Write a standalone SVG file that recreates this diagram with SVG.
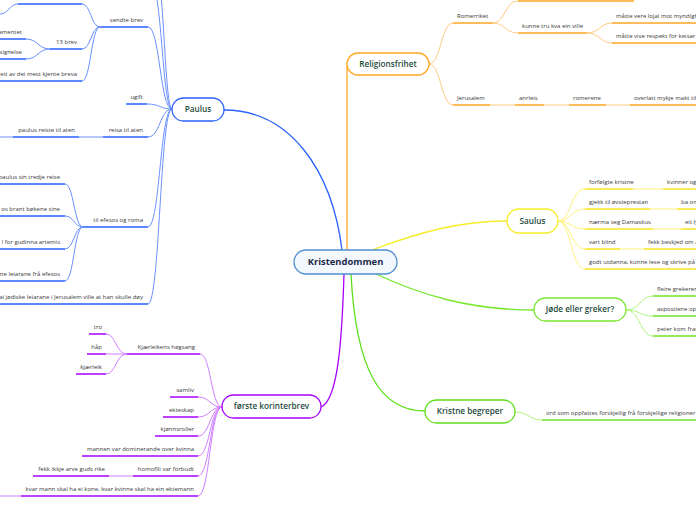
<svg xmlns="http://www.w3.org/2000/svg" width="696" height="520" viewBox="0 0 696 520">
<style>
.t{font-family:"Open Sans","Noto Sans",sans-serif;font-size:6px;fill:#3a3a3a}
.e{text-anchor:end}
.n{font-family:"Open Sans","Noto Sans",sans-serif;font-size:8.2px;font-weight:600;fill:#1e4a3c;text-anchor:middle}
.root{font-family:"Open Sans","Noto Sans",sans-serif;font-size:9.4px;font-weight:700;fill:#1b2a4a;text-anchor:middle}
path,line{fill:none}
.cB{stroke:#6a90ff;stroke-width:1}
.uB{stroke:#2962ff;stroke-width:1.6}
.cO{stroke:#ffcb80;stroke-width:1}
.uO{stroke:#ffa726;stroke-width:1.6}
.cY{stroke:#fff27a;stroke-width:1}
.uY{stroke:#f7e61c;stroke-width:1.6}
.cG{stroke:#aef57a;stroke-width:1}
.uG{stroke:#6fe524;stroke-width:1.6}
.cP{stroke:#cf80ff;stroke-width:1}
.uP{stroke:#a800ff;stroke-width:1.6}
.box{fill:#fff;stroke-width:1.3}
</style>
<rect width="696" height="520" fill="#fff"/>
<g id="connectors">
<!-- main -->
<path d="M342 250 C332 170 290 110 224 110" stroke="#2962ff" stroke-width="1.3"/>
<path d="M347 250 V66" stroke="#ffa726" stroke-width="1.3"/>
<path d="M372 250 C420 232 460 221 507 221" stroke="#f7ec2a" stroke-width="1.3"/>
<path d="M374 273 C420 295 470 310 534 310" stroke="#76e82a" stroke-width="1.3"/>
<path d="M351 274 C356 370 380 411 425 411" stroke="#5fe01a" stroke-width="1.3"/>
<path d="M344 274 C342 340 338 400 321 407" stroke="#a800ff" stroke-width="1.3"/>
<!-- Religionsfrihet -->
<path class="cO" d="M429 64 C441 64 441 23 453 23 M429 64 C441 64 441 105 453 105 M493 23 C505 23 505 1 518 1 M493 23 C505 23 505 33 518 33 M587 33 C600 33 600 23 612 23 M587 33 C600 33 600 43 612 43 M490 105 H515 M544 105 H569 M606 105 H630"/>
<!-- Saulus -->
<path class="cY" d="M558 221 C571 221 571 189 585 189 M558 221 C571 221 571 209 585 209 M558 221 C571 221 571 229 585 229 M558 221 C571 221 571 249 585 249 M558 221 C571 221 571 269 585 269 M633 189 H663 M650 209 H677 M653 229 H681 M620 249 H644"/>
<!-- Jøde -->
<path class="cG" d="M626 310 C640 310 640 296 653 296 M626 310 C640 310 640 316 653 316 M626 310 C640 310 640 336 653 336 M515 412 C529 412 529 420 542 420"/>
<!-- første -->
<path class="cP" d="M222 407 C211 407 211 354 200 354 M222 407 C210 407 210 397 198 397 M222 407 C210 407 210 417 198 417 M222 407 C210 407 210 436 198 436 M222 407 C210 407 210 456 198 456 M222 407 C210 407 210 476 198 476 M222 407 C210 407 210 496 198 496 M127 354 C116 354 116 334 106 334 M127 354 H106 M127 354 C116 354 116 374 106 374 M109 476 H133 M0 496 H21"/>
<!-- Paulus -->
<path class="cB" d="M172 109 C160 109 160 27 148 27 M172 109 C160 109 160 104 147 104 M172 109 C160 109 160 137 148 137 M172 109 C160 109 160 227 148 227 M172 109 C160 109 160 304 148 304 M172 109 C162 109 162 -20 150 -20 M172 109 C164 109 164 -50 152 -50 M100 27 C91 27 91 4 82 4 M100 27 C91 27 91 49 82 49 M100 27 C91 27 91 81 82 81 M18 4 C9 4 9 14 0 14 M50 49 C38 49 38 39 26 39 M50 49 C38 49 38 59 26 59 M83 227 C74 227 74 184 65 184 M83 227 C74 227 74 216 65 216 M83 227 C74 227 74 249 65 249 M83 227 C74 227 74 281 65 281 M79 137 H103 M0 137 H13"/>
</g>
<g id="root">
<rect x="294" y="250" width="103" height="24" rx="12" fill="#f3f8fd" stroke="#4d8fd3" stroke-width="1.3"/>
<text class="root" x="345.5" y="265.3">Kristendommen</text>
</g>
<g id="religionsfrihet">
<rect class="box" x="347" y="53" width="82" height="22" rx="11" stroke="#ffa726"/>
<text class="n" x="388" y="66.9">Religionsfrihet</text>
<path class="uO" d="M453 23 H493 M518 1 H634 M518 33 H587 M612 23 H696 M612 43 H696 M453 105 H490 M515 105 H544 M569 105 H606 M630 105 H696"/>
<text class="t" x="457" y="18">Romerriket</text>
<text class="t" x="522" y="28">kunne tru kva ein ville</text>
<text class="t" x="616" y="18">måtte vere lojal mot myndigh</text>
<text class="t" x="616" y="38">måtte vise respekt for keisar</text>
<text class="t" x="457" y="100">Jerusalem</text>
<text class="t" x="519" y="100">anrleis</text>
<text class="t" x="573" y="100">romerene</text>
<text class="t" x="634" y="100">overlatt mykje makt til</text>
</g>
<g id="saulus">
<rect class="box" x="507" y="209" width="51" height="24" rx="12" stroke="#f7ec2a"/>
<text class="n" x="532.5" y="223.9">Saulus</text>
<path class="uY" d="M585 189 H633 M663 189 H696 M585 209 H650 M677 209 H696 M585 229 H653 M681 229 H696 M585 249 H620 M644 249 H696 M585 269 H696"/>
<text class="t" x="589" y="184">forfølgte kristne</text>
<text class="t" x="667" y="184">kvinner og</text>
<text class="t" x="589" y="204">gjekk til øvsteprestan</text>
<text class="t" x="681" y="204">ba om</text>
<text class="t" x="589" y="224">nærma seg Damaskus</text>
<text class="t" x="685" y="224">eit lys</text>
<text class="t" x="589" y="244">vart blind</text>
<text class="t" x="648" y="244">fekk beskjed om å</text>
<text class="t" x="589" y="264">godt utdanna, kunne lese og skrive på l</text>
</g>
<g id="jode">
<rect class="box" x="534" y="298" width="92" height="23" rx="11.5" stroke="#76e82a"/>
<text class="n" x="580" y="312.4">Jøde eller greker?</text>
<path class="uG" d="M653 296 H696 M653 316 H696 M653 336 H696"/>
<text class="t" x="657" y="291">fleire grekerere</text>
<text class="t" x="657" y="311">aspostlene opp</text>
<text class="t" x="657" y="331">peter kom fram</text>
</g>
<g id="kristne">
<rect class="box" x="425" y="400" width="90" height="23" rx="11.5" stroke="#5fe01a"/>
<text class="n" x="470" y="414.4">Kristne begreper</text>
<path class="uG" d="M542 420 H696"/>
<text class="t" x="546" y="415">ord som oppfattes forskjellig frå forskjellige religioner</text>
</g>
<g id="forste">
<rect class="box" x="222" y="395" width="99" height="23" rx="11.5" stroke="#a800ff"/>
<text class="n" x="271.5" y="409.4">første korinterbrev</text>
<path class="uP" d="M127 354 H200 M89 334 H106 M87 354 H106 M76 374 H106 M170 397 H198 M163 417 H198 M155 436 H198 M82 456 H198 M133 476 H198 M33 476 H109 M21 496 H198"/>
<text class="t e" x="195" y="349">Kjærleikens høgsang</text>
<text class="t e" x="102" y="329">tro</text>
<text class="t e" x="102" y="349">håp</text>
<text class="t e" x="102" y="369">kjærleik</text>
<text class="t e" x="194" y="392">samliv</text>
<text class="t e" x="194" y="412">ekteskap</text>
<text class="t e" x="194" y="431">kjønnsroller</text>
<text class="t e" x="194" y="451">mannen var dominerande over kvinna</text>
<text class="t e" x="194" y="471">homofili var forbudt</text>
<text class="t e" x="105" y="471">fekk ikkje arve guds rike</text>
<text class="t e" x="194" y="491">kvar mann skal ha ei kone, kvar kvinne skal ha ein ektemann</text>
</g>
<g id="paulus">
<rect class="box" x="172" y="98" width="52" height="23" rx="11.5" stroke="#2962ff"/>
<text class="n" x="198" y="112.4">Paulus</text>
<path class="uB" d="M100 27 H148 M18 4 H82 M50 49 H82 M0 39 H26 M0 59 H26 M0 81 H82 M126 104 H147 M103 137 H148 M13 137 H79 M83 227 H148 M0 184 H65 M0 216 H65 M0 249 H65 M0 281 H65 M0 304 H148"/>
<text class="t e" x="143" y="22">sendte brev</text>
<text class="t e" x="77" y="44">13 brev</text>
<text class="t e" x="22" y="34">amentet</text>
<text class="t e" x="22" y="54">signelse</text>
<text class="t e" x="77" y="76">eit av dei mest kjente breva</text>
<text class="t e" x="143" y="99">ugift</text>
<text class="t e" x="143" y="132">reisa til aten</text>
<text class="t e" x="75" y="132">paulus reiste til aten</text>
<text class="t e" x="143" y="222">til efesos og roma</text>
<text class="t e" x="60" y="179">paulus sin tredje reise</text>
<text class="t e" x="60" y="211">os brant bøkene sine</text>
<text class="t e" x="60" y="244">l for gudinna artemis</text>
<text class="t e" x="60" y="276">ne leiarane frå efesos</text>
<text class="t e" x="143" y="299">ai jødiske leiarane i Jerusalem ville at han skulle døy</text>
</g>
</svg>
